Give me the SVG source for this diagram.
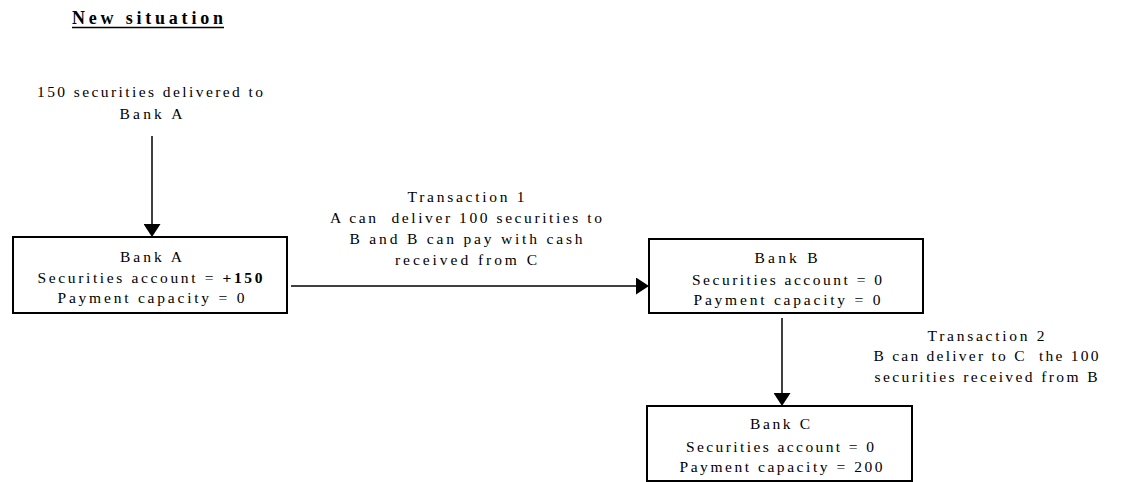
<svg xmlns="http://www.w3.org/2000/svg" width="1122" height="482" viewBox="0 0 1122 482">
<style>
  text { font-family: "Liberation Serif", "Times New Roman", serif; font-size: 15.5px; fill: #000; text-anchor: middle; }
  .title { font-size: 18px; font-weight: bold; text-anchor: start; }
  .box { fill: #fff; stroke: #000; stroke-width: 2; }
  .conn { fill: none; stroke: #000; stroke-width: 1.5; }
</style>
<defs>
  <marker id="arrow" viewBox="0 0 13 17" refX="3" refY="8.5" markerWidth="13" markerHeight="17" markerUnits="userSpaceOnUse" orient="auto">
    <path d="M0,0 L13,8.5 L0,17 z" fill="#000"/>
  </marker>
</defs>
<rect width="1122" height="482" fill="#fff"/>

<g id="title">
  <text class="title" x="72" y="24" textLength="151" lengthAdjust="spacing">New situation</text>
  <line x1="72" y1="27.5" x2="224" y2="27.5" stroke="#000" stroke-width="1.5"/>
</g>

<g id="source-label">
  <text x="150" y="97" textLength="226" lengthAdjust="spacing">150 securities delivered to</text>
  <text x="151" y="119" textLength="63" lengthAdjust="spacing">Bank A</text>
</g>

<g id="connectors">
  <line class="conn" x1="152" y1="136" x2="152" y2="227" marker-end="url(#arrow)"/>
  <line class="conn" x1="291" y1="286" x2="639" y2="286" marker-end="url(#arrow)"/>
  <line class="conn" x1="782" y1="318" x2="782" y2="396" marker-end="url(#arrow)"/>
</g>

<g id="label-transaction1">
  <text x="466" y="202" textLength="117" lengthAdjust="spacing">Transaction 1</text>
  <text x="466" y="223" textLength="272" lengthAdjust="spacing" xml:space="preserve">A can  deliver 100 securities to</text>
  <text x="466" y="244" textLength="233" lengthAdjust="spacing">B and B can pay with cash</text>
  <text x="466" y="265" textLength="142" lengthAdjust="spacing">received from C</text>
</g>

<g id="label-transaction2">
  <text x="986" y="341" textLength="117" lengthAdjust="spacing">Transaction 2</text>
  <text x="986" y="361" textLength="225" lengthAdjust="spacing" xml:space="preserve">B can deliver to C  the 100</text>
  <text x="986" y="382" textLength="223" lengthAdjust="spacing">securities received from B</text>
</g>

<g id="bank-a">
  <rect class="box" x="13" y="237" width="274" height="76"/>
  <text x="151" y="262" textLength="62" lengthAdjust="spacing">Bank A</text>
  <text x="150" y="283" textLength="225" lengthAdjust="spacing">Securities account = <tspan font-weight="bold">+150</tspan></text>
  <text x="151" y="303" textLength="187" lengthAdjust="spacing">Payment capacity = 0</text>
</g>

<g id="bank-b">
  <rect class="box" x="649" y="239" width="274" height="74"/>
  <text x="786" y="263" textLength="63" lengthAdjust="spacing">Bank B</text>
  <text x="787" y="285" textLength="190" lengthAdjust="spacing">Securities account = 0</text>
  <text x="787" y="305" textLength="187" lengthAdjust="spacing">Payment capacity = 0</text>
</g>

<g id="bank-c">
  <rect class="box" x="647" y="406" width="265" height="75"/>
  <text x="780" y="429" textLength="60" lengthAdjust="spacing">Bank C</text>
  <text x="780" y="452" textLength="188" lengthAdjust="spacing">Securities account = 0</text>
  <text x="781" y="472" textLength="203" lengthAdjust="spacing">Payment capacity = 200</text>
</g>
</svg>
